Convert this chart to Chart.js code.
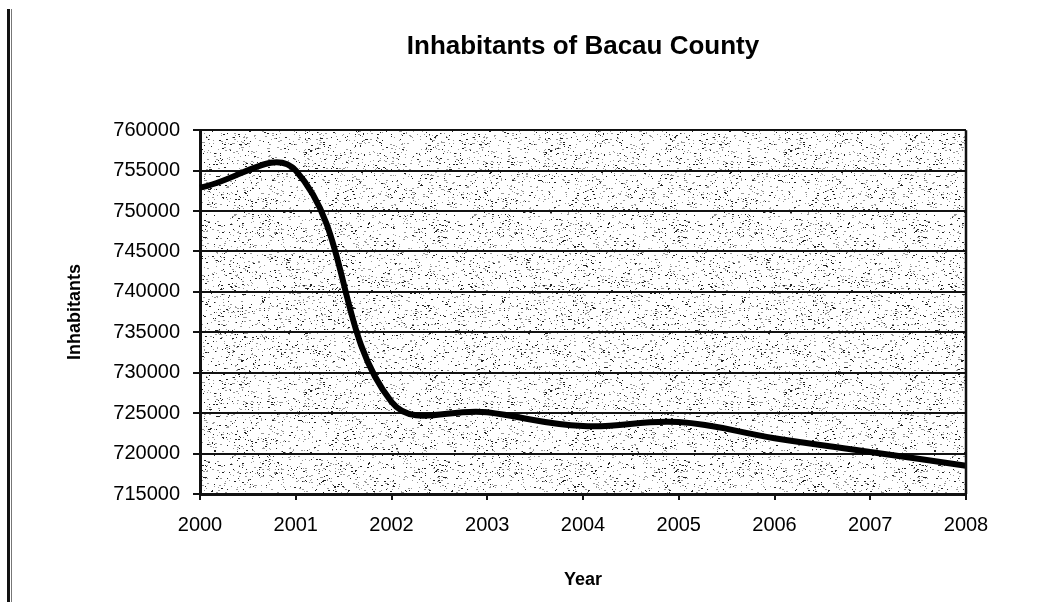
<!DOCTYPE html>
<html>
<head>
<meta charset="utf-8">
<title>Inhabitants of Bacau County</title>
<script src="https://cdn.jsdelivr.net/npm/chart.js@4/dist/chart.umd.min.js"></script>
<style>
  html, body { margin: 0; padding: 0; background: #fff; }
  canvas { display: block; }
</style>
</head>
<body>
<canvas id="chart" width="1040" height="602"></canvas>
<script>
// Population of Bacau County, one value per year
const years = ['2000', '2001', '2002', '2003', '2004', '2005', '2006', '2007', '2008'];
const inhabitants = [752900, 755000, 726400, 725100, 723400, 723900, 721900, 720200, 718500];
const yTickValues = [715000, 720000, 725000, 730000, 735000, 740000, 745000, 750000, 755000, 760000];

const FONT = "'Liberation Sans', Arial, sans-serif";

// Speckled grey texture used as the plot background
function makeStipple() {
  const c = document.createElement('canvas');
  c.width = 240; c.height = 240;
  const g = c.getContext('2d');
  g.fillStyle = '#ffffff';
  g.fillRect(0, 0, c.width, c.height);
  let s = 1234567;
  const rnd = () => { s = (s * 1103515245 + 12345) % 2147483648; return s / 2147483648; };
  const n = Math.round(c.width * c.height * 0.065);
  for (let i = 0; i < n; i++) {
    const x = Math.floor(rnd() * c.width);
    const y = Math.floor(rnd() * c.height);
    const w = rnd() < 0.35 ? 2 : 1;
    g.fillStyle = rnd() < 0.4 ? '#222222' : '#9a9a9a';
    g.fillRect(x, y, w, 1);
  }
  return c;
}

const framePlugin = {
  id: 'frame',
  beforeDraw(chart) {
    const { ctx, chartArea: a } = chart;
    ctx.save();
    ctx.fillStyle = ctx.createPattern(makeStipple(), 'repeat');
    ctx.fillRect(a.left, a.top, a.right - a.left, a.bottom - a.top);
    // page rule along the left edge
    ctx.fillStyle = '#111';
    ctx.fillRect(7, 9, 3, chart.height - 9);
    ctx.fillStyle = '#777';
    ctx.fillRect(11, 9, 1, chart.height - 9);
    ctx.restore();
  },
  afterDatasetsDraw(chart) {
    const { ctx, chartArea: a } = chart;
    ctx.save();
    ctx.strokeStyle = '#111';
    ctx.lineWidth = 2.5;
    ctx.beginPath();
    ctx.moveTo(a.right, a.top);
    ctx.lineTo(a.right, a.bottom);
    ctx.stroke();
    ctx.restore();
  }
};

new Chart(document.getElementById('chart'), {
  type: 'line',
  data: {
    labels: years,
    datasets: [{
      label: 'Inhabitants',
      data: inhabitants,
      borderColor: '#000',
      borderWidth: 6,
      pointRadius: 0,
      tension: 0.4,
      fill: false
    }]
  },
  options: {
    responsive: false,
    animation: false,
    devicePixelRatio: 1,
    layout: { padding: { left: 0, right: 74, top: 0, bottom: 0 } },
    plugins: {
      legend: { display: false },
      tooltip: { enabled: false },
      title: {
        display: true,
        fullSize: false,
        text: 'Inhabitants of Bacau County',
        color: '#000',
        font: { family: FONT, size: 26, weight: 'bold' },
        padding: { top: 31, bottom: 68 }
      }
    },
    scales: {
      x: {
        type: 'category',
        offset: false,
        grid: {
          display: true,
          drawOnChartArea: false,
          drawTicks: true,
          tickLength: 6,
          color: '#111',
          lineWidth: 2
        },
        border: { display: true, color: '#111', width: 3 },
        ticks: {
          color: '#000',
          font: { family: FONT, size: 20 },
          padding: 13,
          maxRotation: 0,
          autoSkip: false
        },
        title: {
          display: true,
          text: 'Year',
          color: '#000',
          font: { family: FONT, size: 18, weight: 'bold' },
          padding: { top: 0, bottom: 11 }
        },
        afterFit(scale) { scale.height = 108; }
      },
      y: {
        min: yTickValues[0],
        max: yTickValues[yTickValues.length - 1],
        grid: {
          color: '#111',
          lineWidth: 2,
          drawTicks: true,
          tickLength: 7
        },
        border: { display: true, color: '#111', width: 3 },
        ticks: {
          stepSize: yTickValues[1] - yTickValues[0],
          color: '#000',
          font: { family: FONT, size: 20 },
          padding: 13,
          callback: (v) => String(v)
        },
        afterBuildTicks(scale) {
          scale.ticks = yTickValues.map(v => ({ value: v }));
        },
        title: {
          display: true,
          text: 'Inhabitants',
          color: '#000',
          font: { family: FONT, size: 18, weight: 'bold' },
          padding: { top: 64, bottom: 0 }
        },
        afterFit(scale) { scale.width = 200; }
      }
    }
  },
  plugins: [framePlugin]
});
</script>
</body>
</html>
